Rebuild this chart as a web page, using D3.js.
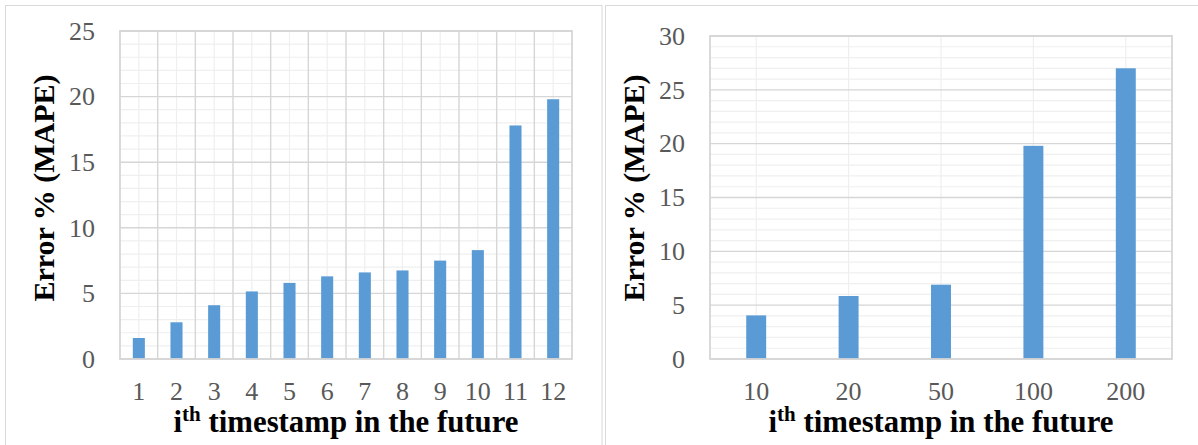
<!DOCTYPE html>
<html>
<head>
<meta charset="utf-8">
<script src="https://cdn.jsdelivr.net/npm/d3@7"></script>
<style>
  html, body { margin: 0; padding: 0; background: #ffffff; }
  svg { display: block; }
</style>
</head>
<body>
<svg id="chart" width="1198" height="445"></svg>
<script>
// ---- data ----
const leftCategories = ["1","2","3","4","5","6","7","8","9","10","11","12"];
const leftValues = [1.6, 2.8, 4.1, 5.15, 5.8, 6.3, 6.6, 6.75, 7.5, 8.3, 17.8, 19.8];
const leftYTicks = [0, 5, 10, 15, 20, 25];

const rightCategories = ["10","20","50","100","200"];
const rightValues = [4.05, 5.85, 6.9, 19.8, 27.0];
const rightYTicks = [0, 5, 10, 15, 20, 25, 30];

const yTitle = "Error % (MAPE)";
const xTitleMain = "i";
const xTitleSup = "th";
const xTitleRest = " timestamp in the future";

// ---- styling ----
const FONT = "'Liberation Serif', 'Times New Roman', Times, serif";
const BAR = "#5b9bd5";
const MAJOR = "#d6d6d6";
const MINOR = "#efefef";
const TICK_COLOR = "#595959";

const svg = d3.select("#chart");
svg.append("rect").attr("width", 1198).attr("height", 445).attr("fill", "#fff");

// panel frames
svg.append("rect").attr("x", 5.5).attr("y", 5.5).attr("width", 596.5).attr("height", 470)
  .attr("fill", "none").attr("stroke", "#d9d9d9").attr("stroke-width", 1);
svg.append("rect").attr("x", 605.5).attr("y", 5.5).attr("width", 620).attr("height", 470)
  .attr("fill", "none").attr("stroke", "#d9d9d9").attr("stroke-width", 1);

function drawChart(cfg) {
  const { left, right, top, bottom, cats, vals, yMax, yTicks, barFrac, majorVertical, yTitleX, yTitleY } = cfg;
  const g = svg.append("g");

  const slot = d3.scaleBand().domain(cats).range([left, right]).padding(0);
  const x = d3.scaleBand().domain(cats).range([left, right])
    .paddingInner(1 - barFrac).paddingOuter((1 - barFrac) / 2);
  const y = d3.scaleLinear().domain([0, yMax]).range([bottom, top]);

  // minor horizontal gridlines (every 1 unit)
  const minorY = d3.range(0, yMax + 1).filter(v => v % 5 !== 0);
  g.append("g").selectAll("line").data(minorY).join("line")
    .attr("x1", left).attr("x2", right)
    .attr("y1", d => y(d)).attr("y2", d => y(d))
    .attr("stroke", MINOR).attr("stroke-width", 1.2);

  // minor vertical gridlines at category centres
  g.append("g").selectAll("line").data(cats).join("line")
    .attr("x1", d => slot(d) + slot.bandwidth() / 2).attr("x2", d => slot(d) + slot.bandwidth() / 2)
    .attr("y1", top).attr("y2", bottom)
    .attr("stroke", MINOR).attr("stroke-width", 1.2);

  // major horizontal gridlines
  g.append("g").selectAll("line").data(yTicks).join("line")
    .attr("x1", left).attr("x2", right)
    .attr("y1", d => y(d)).attr("y2", d => y(d))
    .attr("stroke", MAJOR).attr("stroke-width", 1.4);

  // major vertical gridlines at category boundaries
  if (majorVertical) {
    g.append("g").selectAll("line").data(cats.slice(1)).join("line")
      .attr("x1", d => slot(d)).attr("x2", d => slot(d))
      .attr("y1", top).attr("y2", bottom)
      .attr("stroke", MAJOR).attr("stroke-width", 1.4);
  }

  // bars
  g.append("g").selectAll("rect").data(cats).join("rect")
    .attr("x", d => x(d))
    .attr("width", x.bandwidth())
    .attr("y", (d, i) => y(vals[i]))
    .attr("height", (d, i) => y(0) - y(vals[i]))
    .attr("fill", BAR);

  // plot border
  g.append("rect").attr("x", left).attr("y", top)
    .attr("width", right - left).attr("height", bottom - top)
    .attr("fill", "none").attr("stroke", MAJOR).attr("stroke-width", 1.8);

  // y axis labels
  const ya = g.append("g").attr("transform", `translate(${left},0)`)
    .call(d3.axisLeft(y).tickValues(yTicks).tickSize(0).tickPadding(25).tickFormat(d3.format("d")));
  ya.select(".domain").remove();
  ya.attr("font-family", FONT).attr("font-size", 26);
  ya.selectAll("text").attr("fill", TICK_COLOR);

  // x axis labels
  const xa = g.append("g").attr("transform", `translate(0,${bottom})`)
    .call(d3.axisBottom(slot).tickSize(0).tickPadding(23));
  xa.select(".domain").remove();
  xa.attr("font-family", FONT).attr("font-size", 26);
  xa.selectAll("text").attr("fill", TICK_COLOR);

  // x title
  const xt = g.append("text")
    .attr("x", (left + right) / 2).attr("y", 432)
    .attr("text-anchor", "middle")
    .attr("font-family", FONT).attr("font-weight", "bold").attr("font-size", 30.8)
    .attr("fill", "#000");
  xt.append("tspan").text(xTitleMain);
  xt.append("tspan").attr("font-size", 21).attr("dy", -11).text(xTitleSup);
  xt.append("tspan").attr("dy", 11).text(xTitleRest);

  // y title
  g.append("text")
    .attr("transform", `translate(${yTitleX},${yTitleY}) rotate(-90)`)
    .attr("text-anchor", "middle")
    .attr("font-family", FONT).attr("font-weight", "bold").attr("font-size", 30)
    .attr("fill", "#000")
    .text(yTitle);
}

drawChart({
  left: 120, right: 572, top: 31, bottom: 359,
  cats: leftCategories, vals: leftValues, yMax: 25, yTicks: leftYTicks,
  barFrac: 0.32, majorVertical: true, yTitleX: 54, yTitleY: 188
});

drawChart({
  left: 710, right: 1172, top: 36, bottom: 359,
  cats: rightCategories, vals: rightValues, yMax: 30, yTicks: rightYTicks,
  barFrac: 0.216, majorVertical: false, yTitleX: 644, yTitleY: 188
});
</script>
</body>
</html>
